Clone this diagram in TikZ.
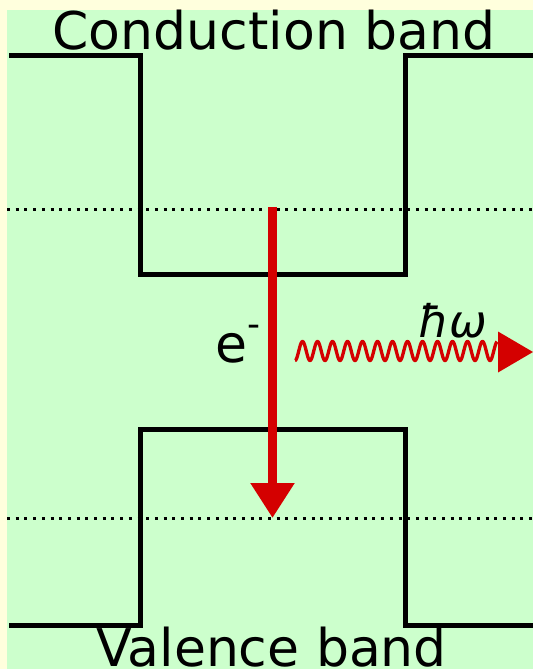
\documentclass[tikz,border=0pt]{standalone}
\usepackage{fontspec}
\setmainfont{DejaVu Sans}
\usetikzlibrary{arrows.meta}
\definecolor{bggreen}{HTML}{CCFFCC}
\definecolor{margin}{HTML}{FFFFDD}
\definecolor{photonred}{HTML}{D40000}
\tikzset{
  band/.style={draw=black, line width=5pt, miter limit=10},
  level/.style={draw=black, line width=3pt, dash pattern=on 3pt off 5.7pt},
  label/.style={font=\fontsize{52}{60}\selectfont, inner sep=0pt, anchor=base},
  electron/.style={draw=photonred, line width=8.5pt, -{Triangle[length=35pt,width=42pt]}},
  photon/.style={draw=photonred, line width=3.3pt},
}
\begin{document}
\begin{tikzpicture}[x=1pt,y=-1pt]
\useasboundingbox (0,0) rectangle (533,669);
\fill[margin] (0,0) rectangle (533,669);
\fill[bggreen] (7,10) rectangle (533,669);
% band edges
\draw[band] (9,56) -- (140,56) -- (140,274) -- (405,274) -- (405,56) -- (533,56);
\draw[band] (9,625.5) -- (140,625.5) -- (140,429.5) -- (405,429.5) -- (405,625.5) -- (533,625.5);
% Fermi/quasi levels
\coordinate (l1a) at (7,209); \coordinate (l1b) at (533,209);
\coordinate (l2a) at (7,518); \coordinate (l2b) at (533,518);
\draw[level] (l1a) -- (l1b);
\draw[level] (l2a) -- (l2b);
% electron transition
\coordinate (etop) at (272.5,207);
\coordinate (ebot) at (272.5,518);
\draw[electron] (etop) -- (ebot);
% photon
\draw[photon] plot[domain=0:202, samples=500, smooth] ({295+\x}, {351+9.5*cos(\x/15*360)});
\coordinate (ptip) at (533,352);
\fill[photonred] (ptip) -- (498,331.5) -- (498,372.5) -- cycle;
% labels
\node[label] (cb) at (274,50) {Conduction band};
\node[label] (vb) at (271.5,666) {Valence band};
\node[label, anchor=base west] (el) at (215,362) {e\raisebox{26pt}{\fontsize{36}{40}\selectfont -}};
\node[label, font=\fontsize{45}{54}\selectfont\itshape] (hw) at (453,337) {ħω};
\end{tikzpicture}
\end{document}
